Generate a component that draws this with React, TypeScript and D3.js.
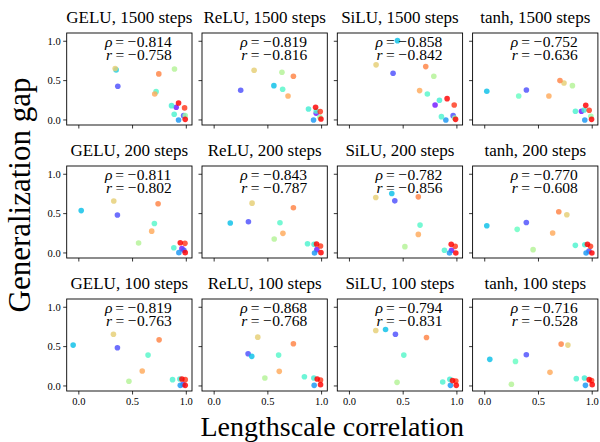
import React from "react";
import * as d3 from "d3";

// ---------- data ----------
const ACTIVATIONS = ["GELU", "ReLU", "SiLU", "tanh"];
const STEPS = [1500, 200, 100];
const RHO = [
  [-0.814, -0.819, -0.858, -0.752],
  [-0.811, -0.843, -0.782, -0.77],
  [-0.819, -0.868, -0.794, -0.716],
];
const PEARSON = [
  [-0.758, -0.816, -0.842, -0.636],
  [-0.802, -0.787, -0.856, -0.608],
  [-0.763, -0.768, -0.831, -0.528],
];
const X_TICKS = [0, 0.5, 1];
const Y_TICKS = [0, 0.5, 1];

// points: [lengthscale correlation, generalization gap, colour value]
const GELU_1500 = [
  [0.338, 0.653, 0.7], [0.347, 0.636, 0.3], [0.3625, 0.428, 0.1], [0.744, 0.585, 0.83],
  [0.719, 0.36, 0.42], [0.706, 0.33, 0.77], [0.89, 0.648, 0.6], [0.8625, 0.182, 0.38],
  [0.928, 0.216, 1.0], [0.906, 0.161, 0.03], [0.984, 0.153, 0.93], [0.8875, 0.072, 0.4],
  [0.928, 0.0, 0.2], [0.975, 0.055, 0.1], [0.99, 0.055, 0.55], [0.99, 0.008, 1.0],
];
const RELU_1500 = [
  [0.372, 0.631, 0.7], [0.631, 0.606, 0.6], [0.7375, 0.555, 0.83], [0.247, 0.377, 0.1],
  [0.556, 0.436, 0.27], [0.6375, 0.39, 0.42], [0.6875, 0.305, 0.77], [0.878, 0.14, 0.38],
  [0.944, 0.161, 1.0], [0.9875, 0.106, 0.93], [0.95, 0.085, 0.03], [0.95, 0.115, 0.4],
  [0.984, 0.034, 0.55], [0.925, 0.0, 0.2], [0.994, 0.013, 1.0],
];
const SILU_1500 = [
  [0.447, 1.008, 0.27], [0.248, 0.7, 0.7], [0.406, 0.593, 0.1], [0.71, 0.678, 0.83],
  [0.785, 0.555, 0.6], [0.653, 0.373, 0.77], [0.725, 0.33, 0.42], [0.8375, 0.25, 0.38],
  [0.909, 0.271, 1.0], [0.797, 0.19, 0.03], [0.975, 0.19, 0.93], [0.856, 0.042, 0.4],
  [0.897, 0.0, 0.2], [0.965, 0.055, 0.1], [0.98, 0.025, 0.55], [0.9875, 0.008, 1.0],
];
const TANH_1500 = [
  [0.019, 0.364, 0.27], [0.316, 0.305, 0.45], [0.3875, 0.381, 0.1], [0.597, 0.305, 0.77],
  [0.7, 0.5, 0.83], [0.7375, 0.47, 0.7], [0.816, 0.436, 0.6], [0.844, 0.11, 0.4],
  [0.9, 0.11, 0.03], [0.94, 0.186, 1.0], [0.972, 0.123, 0.93], [0.925, 0.127, 0.38],
  [0.931, 0.0, 0.2], [0.9875, 0.047, 0.55], [0.994, 0.008, 1.0],
];
const GELU_200 = [
  [0.022, 0.538, 0.27], [0.325, 0.66, 0.7], [0.359, 0.483, 0.1], [0.7375, 0.626, 0.83],
  [0.703, 0.374, 0.42], [0.678, 0.277, 0.77], [0.556, 0.126, 0.6], [0.884, 0.067, 0.4],
  [0.944, 0.13, 1.0], [0.9875, 0.122, 0.93], [0.959, 0.055, 0.03], [0.931, 0.004, 0.2],
  [0.978, 0.034, 0.1], [0.99, 0.004, 1.0],
];
const RELU_200 = [
  [0.353, 0.633, 0.7], [0.7375, 0.574, 0.83], [0.15, 0.38, 0.27], [0.319, 0.397, 0.1],
  [0.6125, 0.384, 0.42], [0.64, 0.249, 0.77], [0.559, 0.177, 0.6], [0.869, 0.118, 0.4],
  [0.953, 0.114, 1.0], [0.99, 0.089, 0.93], [0.956, 0.042, 0.03], [0.934, 0.0, 0.2],
  [0.994, 0.004, 1.0], [0.93, 0.11, 0.38],
];
const SILU_200 = [
  [0.245, 0.705, 0.7], [0.394, 0.755, 0.27], [0.422, 0.662, 0.1], [0.641, 0.713, 0.83],
  [0.657, 0.354, 0.42], [0.641, 0.236, 0.77], [0.516, 0.08, 0.6], [0.884, 0.034, 0.4],
  [0.947, 0.11, 1.0], [0.984, 0.084, 0.93], [0.95, 0.034, 0.03], [0.931, 0.0, 0.2],
  [0.99, 0.0, 1.0],
];
const TANH_200 = [
  [0.019, 0.346, 0.27], [0.302, 0.3, 0.45], [0.387, 0.388, 0.1], [0.632, 0.253, 0.77],
  [0.689, 0.523, 0.83], [0.764, 0.485, 0.7], [0.45, 0.042, 0.6], [0.843, 0.097, 0.4],
  [0.931, 0.105, 0.38], [0.956, 0.11, 1.0], [0.984, 0.084, 0.93], [0.943, 0.0, 0.2],
  [0.97, 0.025, 0.1], [0.997, 0.0, 1.0],
];
const GELU_100 = [
  [-0.053, 0.519, 0.27], [0.322, 0.658, 0.7], [0.359, 0.485, 0.1], [0.747, 0.586, 0.83],
  [0.644, 0.392, 0.42], [0.59, 0.19, 0.77], [0.466, 0.059, 0.6], [0.872, 0.08, 0.4],
  [0.94, 0.089, 0.38], [0.959, 0.089, 1.0], [0.99, 0.08, 0.93], [0.944, 0.008, 0.2],
  [0.97, 0.02, 0.1], [0.99, 0.008, 1.0],
];
const RELU_100 = [
  [0.406, 0.62, 0.7], [0.7375, 0.536, 0.83], [0.316, 0.409, 0.1], [0.35, 0.376, 0.27],
  [0.6, 0.392, 0.42], [0.606, 0.186, 0.77], [0.472, 0.101, 0.6], [0.84, 0.118, 0.4],
  [0.928, 0.101, 0.38], [0.959, 0.089, 1.0], [0.99, 0.076, 0.93], [0.931, 0.008, 0.2],
  [0.99, 0.017, 1.0],
];
const SILU_100 = [
  [0.245, 0.705, 0.7], [0.336, 0.717, 0.27], [0.428, 0.658, 0.1], [0.717, 0.616, 0.83],
  [0.506, 0.392, 0.42], [0.443, 0.046, 0.6], [0.868, 0.051, 0.4], [0.934, 0.084, 0.38],
  [0.959, 0.068, 1.0], [0.99, 0.063, 0.93], [0.94, 0.008, 0.2], [0.994, 0.008, 1.0],
];
const TANH_100 = [
  [0.047, 0.338, 0.27], [0.286, 0.312, 0.45], [0.387, 0.397, 0.1], [0.607, 0.173, 0.77],
  [0.711, 0.532, 0.83], [0.774, 0.519, 0.7], [0.248, 0.021, 0.6], [0.852, 0.093, 0.4],
  [0.928, 0.101, 0.38], [0.972, 0.08, 1.0], [0.994, 0.068, 0.93], [0.937, 0.008, 0.2],
  [1.0, 0.017, 1.0],
];
const PANELS = [
  [GELU_1500, RELU_1500, SILU_1500, TANH_1500],
  [GELU_200, RELU_200, SILU_200, TANH_200],
  [GELU_100, RELU_100, SILU_100, TANH_100],
];

// ---------- layout ----------
const W = 600;
const H = 442;
const PLEFT = 66.7;
const PW = 125.3;
const HGAP = 10;
const PTOP = 33;
const PH = 92;
const VSTRIDE = 133;
const FONT = "'Liberation Serif', 'Times New Roman', serif";

function rainbow(t: number) {
  const r = Math.min(1, Math.abs(2 * t - 0.5));
  const g = Math.sin(Math.PI * t);
  const b = Math.cos((Math.PI * t) / 2);
  return d3.rgb(r * 255, g * 255, b * 255).formatHex();
}

export default function App() {
  const x = d3.scaleLinear().domain([-0.113, 1.053]).range([0, PW]);
  const y = d3.scaleLinear().domain([-0.064, 1.105]).range([PH, 0]);
  const fmt = d3.format(".1f");
  const fmt3 = (v: number) => d3.format(".3f")(Math.abs(v));

  return (
    <svg
      width={W}
      height={H}
      style={{ position: "absolute", left: 0, top: 0, background: "#fff" }}
      fontFamily={FONT}
    >
      <rect width={W} height={H} fill="#fff" />
      {PANELS.map((row, ri) =>
        row.map((pts, ci) => {
          const left = PLEFT + ci * (PW + HGAP);
          const top = PTOP + ri * VSTRIDE;
          const sorted = [...pts].sort((a, b) => a[2] - b[2]);
          const tx = PW * 0.305;
          return (
            <g key={`${ri}-${ci}`} transform={`translate(${left},${top})`}>
              <text
                x={PW / 2}
                y={-10.5}
                textAnchor="middle"
                fontSize={17}
                fill="#000"
              >
                {`${ACTIVATIONS[ci]}, ${STEPS[ri]} steps`}
              </text>
              {sorted.map((p, i) => (
                <circle
                  key={i}
                  cx={x(p[0])}
                  cy={y(p[1])}
                  r={2.8}
                  fill={rainbow(p[2])}
                  fillOpacity={0.82}
                />
              ))}
              <text x={tx} y={14.3} fontSize={15.5} fill="#000">
                <tspan fontStyle="italic">ρ</tspan>
                <tspan dx={3}>{"="}</tspan>
                <tspan dx={3.5}>{"\u2212"}</tspan>
                <tspan dx={0.5}>{fmt3(RHO[ri][ci])}</tspan>
                <tspan x={tx + 1} dy={12.7} fontStyle="italic">r</tspan>
                <tspan dx={3.5}>{"="}</tspan>
                <tspan dx={3.5}>{"\u2212"}</tspan>
                <tspan dx={0.5}>{fmt3(PEARSON[ri][ci])}</tspan>
              </text>
              <rect
                x={0}
                y={0}
                width={PW}
                height={PH}
                fill="none"
                stroke="#000"
                strokeWidth={0.9}
              />
              {Y_TICKS.map((t) => (
                <g key={"y" + t}>
                  <line x1={-3.5} x2={0} y1={y(t)} y2={y(t)} stroke="#000" strokeWidth={0.8} />
                  {ci === 0 && (
                    <text
                      x={-6}
                      y={y(t)}
                      dy="0.35em"
                      textAnchor="end"
                      fontSize={10.5}
                      fill="#000"
                    >
                      {fmt(t)}
                    </text>
                  )}
                </g>
              ))}
              {X_TICKS.map((t) => (
                <g key={"x" + t}>
                  <line x1={x(t)} x2={x(t)} y1={PH} y2={PH + 3.5} stroke="#000" strokeWidth={0.8} />
                  {ri === 2 && (
                    <text
                      x={x(t)}
                      y={PH + 14}
                      textAnchor="middle"
                      fontSize={10.5}
                      fill="#000"
                    >
                      {fmt(t)}
                    </text>
                  )}
                </g>
              ))}
            </g>
          );
        })
      )}
      <text
        x={PLEFT + (4 * PW + 3 * HGAP) / 2}
        y={436}
        textAnchor="middle"
        fontSize={28}
        fill="#000"
      >
        Lengthscale correlation
      </text>
      <text
        transform={`translate(30,195) rotate(-90)`}
        textAnchor="middle"
        fontSize={31}
        fill="#000"
      >
        Generalization gap
      </text>
    </svg>
  );
}
